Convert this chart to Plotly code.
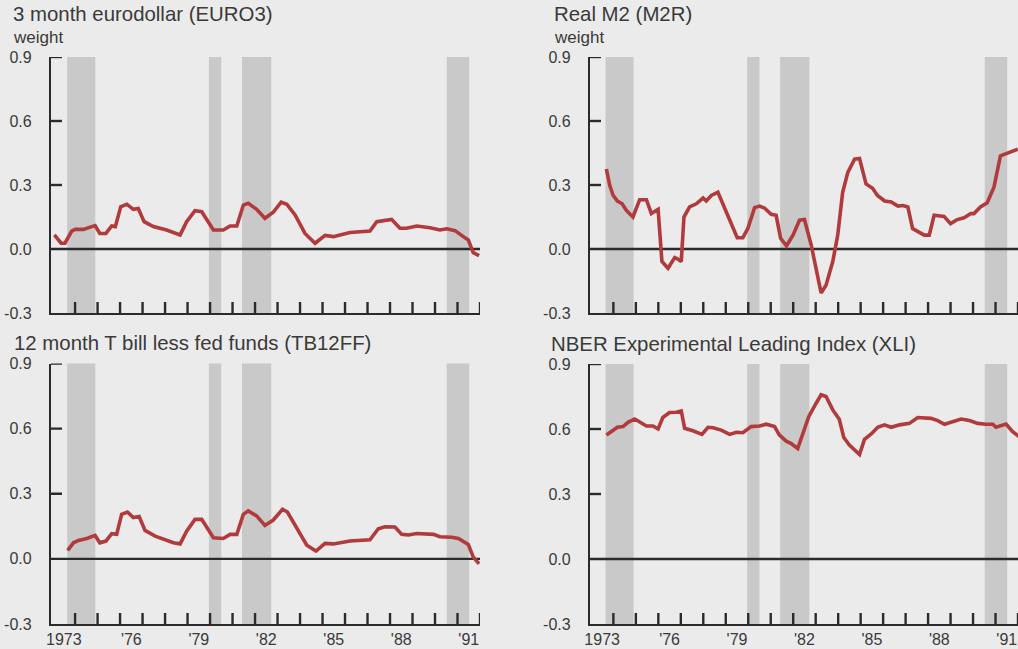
import plotly.graph_objects as go

# ---- data: weights read per panel (decimal year, weight) ----
euro3_year = [1973.08, 1973.38, 1973.55, 1973.85, 1974.0, 1974.37, 1974.74, 1974.89, 1975.1, 1975.37,
              1975.63, 1975.79, 1976.03, 1976.3, 1976.59, 1976.81, 1977.07, 1977.48, 1978.07, 1978.67,
              1978.96, 1979.33, 1979.63, 1980.15, 1980.59, 1980.89, 1981.19, 1981.48, 1981.7, 1982.07,
              1982.44, 1982.81, 1983.16, 1983.41, 1983.78, 1984.22, 1984.67, 1985.11, 1985.48, 1986.22,
              1987.11, 1987.41, 1988.07, 1988.44, 1988.74, 1989.19, 1989.78, 1990.22, 1990.52, 1990.89,
              1991.26, 1991.48, 1991.7, 1991.96]
euro3_w = [0.066, 0.027, 0.027, 0.084, 0.092, 0.092, 0.105, 0.110, 0.073, 0.073,
           0.108, 0.105, 0.198, 0.210, 0.186, 0.190, 0.128, 0.105, 0.089, 0.066,
           0.128, 0.180, 0.175, 0.089, 0.089, 0.108, 0.108, 0.206, 0.214, 0.186,
           0.144, 0.172, 0.220, 0.210, 0.160, 0.073, 0.027, 0.064, 0.058, 0.077,
           0.084, 0.128, 0.139, 0.097, 0.097, 0.108, 0.100, 0.089, 0.095, 0.086,
           0.058, 0.042, -0.017, -0.031]

tb12ff_year = [1973.67, 1973.93, 1974.15, 1974.52, 1974.89, 1975.1, 1975.37, 1975.63, 1975.85, 1976.07,
               1976.33, 1976.59, 1976.85, 1977.11, 1977.56, 1978.0, 1978.37, 1978.67, 1978.96, 1979.33,
               1979.63, 1980.15, 1980.59, 1980.89, 1981.19, 1981.48, 1981.7, 1982.07, 1982.44, 1982.81,
               1983.22, 1983.44, 1983.85, 1984.3, 1984.71, 1985.11, 1985.48, 1986.22, 1987.11, 1987.48,
               1987.78, 1988.22, 1988.52, 1988.81, 1989.19, 1989.93, 1990.22, 1990.74, 1991.04, 1991.48,
               1991.7, 1991.96]
tb12ff_w = [0.039, 0.074, 0.085, 0.094, 0.108, 0.074, 0.082, 0.116, 0.113, 0.205,
            0.216, 0.190, 0.195, 0.131, 0.105, 0.090, 0.074, 0.069, 0.128, 0.182,
            0.182, 0.097, 0.094, 0.113, 0.113, 0.205, 0.221, 0.198, 0.154, 0.179,
            0.228, 0.216, 0.144, 0.063, 0.036, 0.071, 0.069, 0.082, 0.088, 0.139,
            0.148, 0.147, 0.113, 0.110, 0.117, 0.113, 0.102, 0.100, 0.094, 0.066,
            0.008, -0.023]

m2r_year = [1973.69, 1973.84, 1973.99, 1974.18, 1974.39, 1974.58, 1974.87, 1975.17, 1975.47, 1975.69,
            1975.99, 1976.16, 1976.43, 1976.73, 1976.88, 1977.02, 1977.14, 1977.39, 1977.69, 1977.99,
            1978.13, 1978.36, 1978.65, 1979.09, 1979.51, 1979.76, 1979.98, 1980.28, 1980.5, 1980.72,
            1981.02, 1981.24, 1981.44, 1981.7, 1981.99, 1982.28, 1982.5, 1982.8, 1983.02, 1983.24,
            1983.46, 1983.76, 1983.98, 1984.2, 1984.43, 1984.73, 1984.95, 1985.24, 1985.53, 1985.75,
            1986.07, 1986.36, 1986.66, 1986.88, 1987.1, 1987.31, 1987.83, 1988.05, 1988.27, 1988.71,
            1989.0, 1989.3, 1989.6, 1989.9, 1990.04, 1990.33, 1990.63, 1990.93, 1991.22, 1991.99]
m2r_w = [0.375, 0.297, 0.251, 0.225, 0.212, 0.181, 0.150, 0.231, 0.231, 0.166,
         0.186, -0.059, -0.090, -0.040, -0.048, -0.059, 0.150, 0.197, 0.212, 0.239,
         0.225, 0.251, 0.266, 0.158, 0.053, 0.053, 0.096, 0.194, 0.201, 0.192,
         0.163, 0.158, 0.050, 0.015, 0.065, 0.135, 0.138, 0.019, -0.090, -0.206,
         -0.170, -0.059, 0.065, 0.266, 0.359, 0.421, 0.424, 0.305, 0.285, 0.251,
         0.225, 0.220, 0.201, 0.204, 0.197, 0.096, 0.065, 0.065, 0.158, 0.153,
         0.119, 0.138, 0.146, 0.166, 0.166, 0.197, 0.217, 0.290, 0.437, 0.468]

xli_year = [1973.69, 1973.91, 1974.18, 1974.43, 1974.65, 1974.95, 1975.17, 1975.47, 1975.76, 1975.99,
            1976.2, 1976.5, 1976.8, 1977.02, 1977.17, 1977.54, 1977.94, 1978.21, 1978.43, 1978.8,
            1979.17, 1979.47, 1979.76, 1980.13, 1980.5, 1980.8, 1981.17, 1981.39, 1981.69, 1981.91,
            1982.2, 1982.42, 1982.69, 1983.02, 1983.24, 1983.46, 1983.76, 1984.05, 1984.25, 1984.5,
            1984.95, 1985.17, 1985.47, 1985.76, 1986.06, 1986.36, 1986.73, 1987.17, 1987.54, 1988.13,
            1988.43, 1988.73, 1989.1, 1989.47, 1989.84, 1990.21, 1990.58, 1990.88, 1991.02, 1991.47,
            1991.76, 1992.05, 1992.25]
xli_w = [0.572, 0.588, 0.608, 0.611, 0.631, 0.646, 0.634, 0.614, 0.614, 0.600,
         0.653, 0.676, 0.677, 0.683, 0.603, 0.592, 0.575, 0.608, 0.606, 0.595,
         0.575, 0.585, 0.583, 0.611, 0.614, 0.622, 0.611, 0.572, 0.544, 0.533,
         0.510, 0.580, 0.657, 0.719, 0.758, 0.750, 0.688, 0.645, 0.561, 0.526,
         0.482, 0.552, 0.577, 0.608, 0.619, 0.608, 0.619, 0.626, 0.653, 0.649,
         0.639, 0.622, 0.634, 0.646, 0.639, 0.626, 0.622, 0.622, 0.608, 0.623,
         0.588, 0.564, 0.549]

# Recession bands (start, end) in decimal years
recessions = [(1973.65, 1974.9), (1979.95, 1980.5), (1981.42, 1982.72), (1990.52, 1991.52)]

year_labels = ["1973", "'76", "'79", "'82", "'85", "'88", "'91"]
year_label_pos = [1973.5, 1976.5, 1979.5, 1982.5, 1985.5, 1988.5, 1991.5]
year_ticks = list(range(1974, 1993))
y_ticks = [-0.3, 0.0, 0.3, 0.6, 0.9]
y_tick_text = ["-0.3", "0.0", "0.3", "0.6", "0.9"]
y_tick_marks = [0.3, 0.6, 0.9]

panels = [
    ("3 month eurodollar (EURO3)", euro3_year, euro3_w, True, False),
    ("Real M2 (M2R)", m2r_year, m2r_w, True, False),
    ("12 month T bill less fed funds (TB12FF)", tb12ff_year, tb12ff_w, False, True),
    ("NBER Experimental Leading Index (XLI)", xli_year, xli_w, False, True),
]

# ---- styling ----
W, H = 1018, 649
BG = "#ebebeb"
BAND = "#c9c9c9"
INK = "#2b2b2b"
TEXT = "#3a3a3a"
RED = "#b13a3c"
FONT = "Liberation Sans, Arial, Helvetica, sans-serif"
TICK_PX = 11  # tick mark length in pixels
TICK_W = 2.4

# pixel boxes of each plot area: (left, right, top, bottom)
boxes = [(51, 480, 57, 313), (590, 1018, 57, 313), (51, 480, 363.5, 624), (590, 1018, 364, 624)]
x_ranges = [[1972.93, 1992.0], [1972.96, 1992.0], [1972.93, 1992.0], [1972.96, 1992.0]]
y_range = [-0.3, 0.9]
title_pos = [(11, 14), (552, 14), (12, 343), (549, 344)]
weight_pos = [(11, 37), (552, 37)]

fig = go.Figure()
layout = dict(
    template="none",
    width=W, height=H,
    margin=dict(l=0, r=0, t=0, b=0, autoexpand=False),
    paper_bgcolor=BG, plot_bgcolor=BG,
    showlegend=False,
    font=dict(family=FONT, color=TEXT, size=16),
    shapes=[], annotations=[],
)

for i, (title, xs, ys, top_row, show_years) in enumerate(panels):
    n = "" if i == 0 else str(i + 1)
    l, r, t, b = boxes[i]
    xa, ya = "xaxis" + n, "yaxis" + n
    xref, yref = "x" + n, "y" + n

    fig.add_trace(go.Scatter(x=xs, y=ys, mode="lines", xaxis=xref, yaxis=yref,
                             line=dict(color=RED, width=3.6), hoverinfo="skip"))

    layout[xa] = dict(
        domain=[l / W, r / W], anchor=yref, range=x_ranges[i], automargin=False,
        showgrid=False, zeroline=False,
        showline=True, linecolor=INK, linewidth=2.2,
        tickmode="array", tickvals=year_label_pos, ticktext=year_labels,
        ticks="", showticklabels=show_years, ticklabelstandoff=0,
        tickfont=dict(size=16, color=TEXT, family=FONT),
    )
    layout[ya] = dict(
        domain=[1 - b / H, 1 - t / H], anchor=xref, range=y_range, automargin=False,
        showgrid=False, zeroline=False,
        showline=True, linecolor=INK, linewidth=2.2,
        tickmode="array", tickvals=y_ticks, ticktext=y_tick_text,
        ticks="", ticklabelstandoff=14,
        tickfont=dict(size=16, color=TEXT, family=FONT),
    )

    # recession bands
    for s, e in recessions:
        layout["shapes"].append(dict(type="rect", xref=xref, yref=yref + " domain",
                                     x0=s, x1=e, y0=0, y1=1, fillcolor=BAND,
                                     line=dict(width=0), layer="below"))
    # zero line
    layout["shapes"].append(dict(type="line", xref=xref + " domain", yref=yref,
                                 x0=0, x1=1, y0=0, y1=0,
                                 line=dict(color=INK, width=2.4), layer="below"))

    # year tick marks pointing up from the time axis
    fy = TICK_PX / (b - t)
    for yr in year_ticks:
        layout["shapes"].append(dict(type="line", xref=xref, yref=yref + " domain",
                                     x0=yr, x1=yr, y0=0, y1=fy,
                                     line=dict(color=INK, width=TICK_W), layer="above"))
    # weight tick marks pointing right from the value axis
    fx = TICK_PX / (r - l)
    for v in y_tick_marks:
        layout["shapes"].append(dict(type="line", xref=xref + " domain", yref=yref,
                                     x0=0, x1=fx, y0=v, y1=v,
                                     line=dict(color=INK, width=TICK_W), layer="above"))

    tx, ty = title_pos[i]
    layout["annotations"].append(dict(text=title, xref="paper", yref="paper",
                                      x=tx / W, y=1 - ty / H, xanchor="left", yanchor="middle",
                                      showarrow=False, font=dict(size=20.4, color=TEXT, family=FONT)))
    if top_row:
        wx, wy = weight_pos[i]
        layout["annotations"].append(dict(text="weight", xref="paper", yref="paper",
                                          x=wx / W, y=1 - wy / H, xanchor="left", yanchor="middle",
                                          showarrow=False, font=dict(size=17, color=TEXT, family=FONT)))

fig.update_layout(**layout)
fig.write_html("out.html")
